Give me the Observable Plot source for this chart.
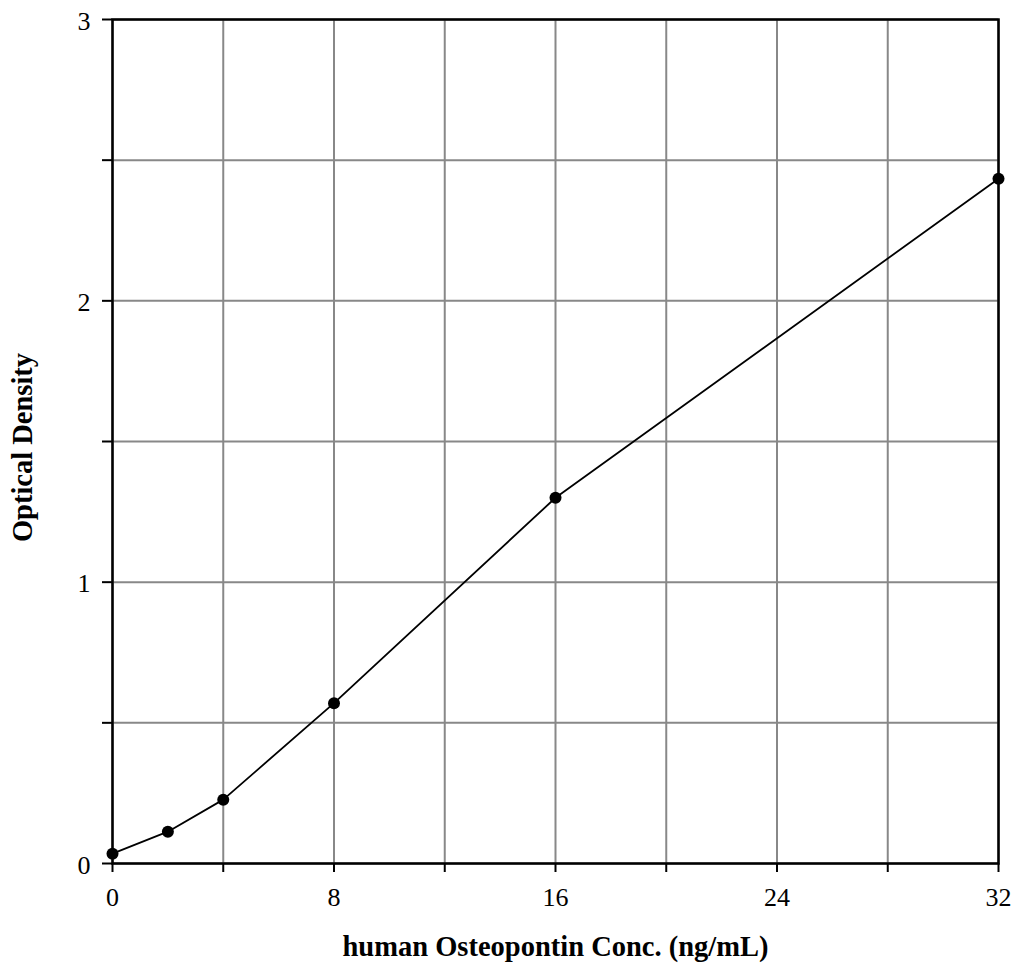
<!DOCTYPE html>
<html>
<head>
<meta charset="utf-8">
<script src="https://cdn.jsdelivr.net/npm/d3@7"></script>
<script src="https://cdn.jsdelivr.net/npm/@observablehq/plot@0.6"></script>
<style>
body { margin: 0; background: #fff; }
svg { font-family: "Liberation Serif", "DejaVu Serif", serif; }
</style>
</head>
<body>
<div id="chart"></div>
<script>
const conc = [0, 2, 4, 8, 16, 32];
const od = [0.035, 0.113, 0.227, 0.57, 1.30, 2.434];
const xTicks = [0, 4, 8, 12, 16, 20, 24, 28, 32];
const yTicks = [0, 0.5, 1, 1.5, 2, 2.5, 3];
const xTickLabels = [0, 8, 16, 24, 32];
const yTickLabels = [0, 1, 2, 3];
const xLabel = "human Osteopontin Conc. (ng/mL)";
const yLabel = "Optical Density";

const data = conc.map((c, i) => ({c, v: od[i]}));

const chart = Plot.plot({
  width: 1013,
  height: 968,
  marginLeft: 112,
  marginRight: 15,
  marginTop: 19,
  marginBottom: 105,
  style: {fontFamily: "Liberation Serif, serif", fontSize: "26px", color: "#000", background: "#fff"},
  x: {domain: [0, 32]},
  y: {domain: [0, 3]},
  marks: [
    Plot.ruleX(xTicks, {stroke: "#888", strokeWidth: 2}),
    Plot.ruleY(yTicks, {stroke: "#888", strokeWidth: 2}),
    Plot.frame({stroke: "#000", strokeWidth: 2.5}),
    Plot.axisX({ticks: xTicks, tickSize: 9, tickFormat: () => "", stroke: "#000", strokeWidth: 2, strokeOpacity: 1, label: null}),
    Plot.axisY({ticks: yTicks, tickSize: 10, tickFormat: () => "", stroke: "#000", strokeWidth: 2, strokeOpacity: 1, label: null}),
    Plot.text(xTickLabels, {x: d => d, frameAnchor: "bottom", lineAnchor: "top", dy: 24, text: d => String(d), fontSize: 26, fill: "#000"}),
    Plot.text(yTickLabels, {y: d => d, frameAnchor: "left", textAnchor: "end", dx: -22, dy: 2, text: d => String(d), fontSize: 26, fill: "#000"}),
    Plot.line(data, {x: "c", y: "v", stroke: "#000", strokeWidth: 1.8}),
    Plot.dot(data, {x: "c", y: "v", fill: "#000", r: 6}),
    Plot.text([xLabel], {frameAnchor: "bottom", dy: 92, fontSize: 28.5, fontWeight: "bold", fill: "#000"}),
    Plot.text([yLabel], {frameAnchor: "left", textAnchor: "middle", dx: -90, dy: 6, rotate: -90, fontSize: 28.5, fontWeight: "bold", fill: "#000"})
  ]
});
document.getElementById("chart").appendChild(chart);
</script>
</body>
</html>
